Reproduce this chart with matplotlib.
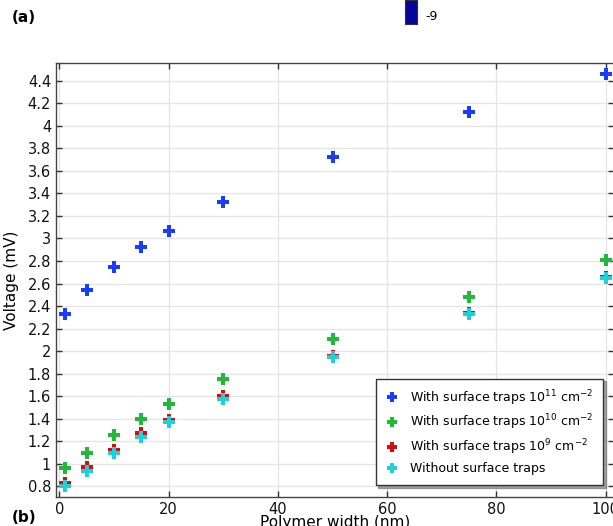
import numpy as np
import matplotlib
matplotlib.use("Agg")
import matplotlib.pyplot as plt

# Polymer width (nm)
width_nm = [1, 5, 10, 15, 20, 30, 50, 75, 100]

# Voltage (mV) per trap density
v_traps_1e11 = [2.33, 2.54, 2.75, 2.92, 3.07, 3.32, 3.72, 4.12, 4.46]
v_traps_1e10 = [0.96, 1.10, 1.26, 1.40, 1.53, 1.75, 2.11, 2.48, 2.81]
v_traps_1e9 = [0.83, 0.97, 1.12, 1.27, 1.39, 1.60, 1.96, 2.34, 2.66]
v_no_traps = [0.805, 0.94, 1.10, 1.24, 1.37, 1.58, 1.95, 2.33, 2.65]

series_labels = [
    r"With surface traps 10$^{11}$ cm$^{-2}$",
    r"With surface traps 10$^{10}$ cm$^{-2}$",
    r"With surface traps 10$^{9}$ cm$^{-2}$",
    "Without surface traps",
]
series_colors = ["#1a3cff", "#22b83a", "#d80c0c", "#1fd0dc"]

yticks = np.round(np.arange(0.8, 4.41, 0.2), 1)
ytick_labels = [f"{t:g}" for t in yticks]

plt.rcParams["font.family"] = "DejaVu Sans"
plt.rcParams["mathtext.fontset"] = "dejavusans"

fig = plt.figure(figsize=(6.13, 5.26), dpi=100)
ax = fig.add_axes([56 / 613, 1 - 497 / 526, 558 / 613, 434 / 526])

all_series = [v_traps_1e11, v_traps_1e10, v_traps_1e9, v_no_traps]
for vals, lab, col in zip(all_series, series_labels, series_colors):
    ax.plot(width_nm, vals, linestyle="none", marker="P", markersize=9,
            markeredgewidth=0, color=col, label=lab, clip_on=False, zorder=3)

ax.set_xlim(-0.6, 101.5)
ax.set_ylim(0.706, 4.557)
ax.set_xticks([0, 20, 40, 60, 80, 100])
ax.set_yticks(yticks)
ax.set_yticklabels(ytick_labels)
ax.tick_params(direction="in", top=True, right=True, length=4, width=1,
               labelsize=10.5, colors="#333333", labelcolor="#111111")
ax.grid(True, color="#e3e3e3", linewidth=0.9)
ax.set_axisbelow(True)
for s in ax.spines.values():
    s.set_color("#444444")
    s.set_linewidth(1.0)

ax.set_xlabel("Polymer width (nm)", fontsize=11, labelpad=-1)
ax.set_ylabel("Voltage (mV)", fontsize=11, labelpad=6)

leg = ax.legend(loc="lower right", bbox_to_anchor=(0.98, 0.028), frameon=True,
                fancybox=False, shadow={"color": "#555555"}, fontsize=9,
                handletextpad=0.8, borderpad=0.75, borderaxespad=0,
                labelspacing=0.42, handlelength=1.2, markerscale=0.8)
leg.get_frame().set_edgecolor("#333333")
leg.get_frame().set_linewidth(1.0)

# panel labels and colour bar fragment from the surrounding figure
fig.text(12 / 613, 1 - 18 / 526, "(a)", fontsize=11, fontweight="bold",
         va="center", ha="left")
fig.text(12 / 613, 1 - 518 / 526, "(b)", fontsize=11, fontweight="bold",
         va="center", ha="left")
cb = fig.add_axes([405 / 613, 1 - 24 / 526, 12 / 613, 24 / 526])
cb.set_facecolor("#06069c")
cb.set_xticks([])
cb.set_yticks([])
for s in cb.spines.values():
    s.set_color("#333333")
fig.text(425 / 613, 1 - 17 / 526, "-9", fontsize=9, va="center", ha="left")

fig.savefig("out.png", dpi=100)
